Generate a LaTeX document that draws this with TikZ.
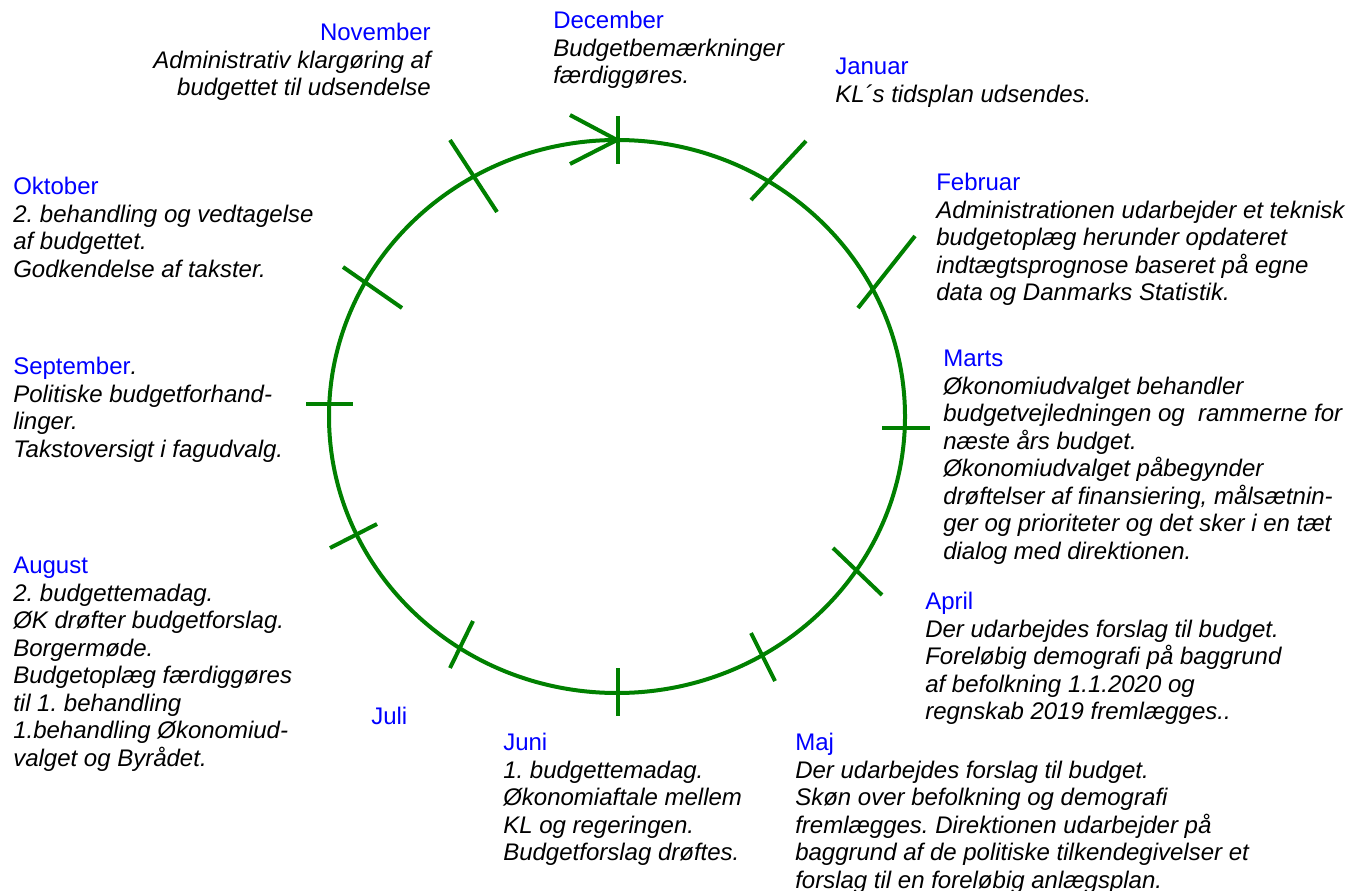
\documentclass[tikz,border=0pt]{standalone}
\usepackage{fontspec}
\setmainfont{Liberation Sans}
\frenchspacing
\definecolor{wheelgreen}{RGB}{0,128,0}
\definecolor{monthblue}{RGB}{0,0,255}
\newcommand{\mname}[1]{{\upshape\color{monthblue}#1}}
\tikzset{
  wheel/.style={draw=wheelgreen,line width=3pt},
  monthtext/.style={inner sep=0pt,anchor=north west,align=left,
    font=\fontsize{18}{20.6}\selectfont\itshape}
}
\begin{document}
\begin{tikzpicture}[x=0.75pt,y=-0.75pt]
\useasboundingbox (0,0) rectangle (1362,891);

% the year wheel
\draw[wheel] (617,416.5) ellipse [x radius=288,y radius=276.5];
% arrow at december
\draw[wheel] (570,115) -- (617,140) -- (570,164);

% month ticks
\begin{scope}[every path/.style={wheel}]
  \draw (618,116) -- (618,164);  % dec
  \draw (806,141) -- (751,200);  % jan
  \draw (915,236) -- (858,308);  % feb
  \draw (882,428) -- (930,428);  % mar
  \draw (833,548) -- (882,595);  % apr
  \draw (751,633) -- (775,681);  % maj
  \draw (618,668) -- (618,716);  % jun
  \draw (473,621) -- (450,668);  % jul
  \draw (330,548) -- (377,524);  % aug
  \draw (306,404) -- (353,404);  % sep
  \draw (343,267) -- (402,308);  % okt
  \draw (450,140) -- (497,212);  % nov
\end{scope}

% month texts
\begin{scope}[every node/.style={monthtext}]
  \node[anchor=north east,align=right] (nov) at (431,23)
    {\mname{November}\\Administrativ klargøring af\\budgettet til udsendelse};
  \node (dec) at (553,11)
    {\mname{December}\\Budgetbemærkninger\\færdiggøres.};
  \node (jan) at (835,58)
    {\mname{Januar}\\KL´s tidsplan udsendes.};
  \node (feb) at (936,173)
    {\mname{Februar}\\Administrationen udarbejder et teknisk\\budgetoplæg herunder opdateret\\indtægtsprognose baseret på egne\\data og Danmarks Statistik.};
  \node (mar) at (943,350)
    {\mname{Marts}\\Økonomiudvalget behandler\\budgetvejledningen og \ rammerne for\\næste års budget.\\Økonomiudvalget påbegynder\\drøftelser af finansiering, målsætnin-\\ger og prioriteter og det sker i en tæt\\dialog med direktionen.};
  \node (apr) at (925,592)
    {\mname{April}\\Der udarbejdes forslag til budget.\\Foreløbig demografi på baggrund\\af befolkning 1.1.2020 og\\regnskab 2019 fremlægges..};
  \node (maj) at (795,733)
    {\mname{Maj}\\Der udarbejdes forslag til budget.\\Skøn over befolkning og demografi\\fremlægges. Direktionen udarbejder på\\baggrund af de politiske tilkendegivelser et\\forslag til en foreløbig anlægsplan.};
  \node (jun) at (503,733)
    {\mname{Juni}\\1. budgettemadag.\\Økonomiaftale mellem\\KL og regeringen.\\Budgetforslag drøftes.};
  \node (jul) at (371,707) {\mname{Juli}};
  \node (aug) at (13,557)
    {\mname{August}\\2. budgettemadag.\\ØK drøfter budgetforslag.\\Borgermøde.\\Budgetoplæg færdiggøres\\til 1. behandling\\1.behandling Økonomiud-\\valget og Byrådet.};
  \node (sep) at (13,357)
    {\mname{September}.\\Politiske budgetforhand-\\linger.\\Takstoversigt i fagudvalg.};
  \node (okt) at (13,177)
    {\mname{Oktober}\\2. behandling og vedtagelse\\af budgettet.\\Godkendelse af takster.};
\end{scope}

\end{tikzpicture}
\end{document}
